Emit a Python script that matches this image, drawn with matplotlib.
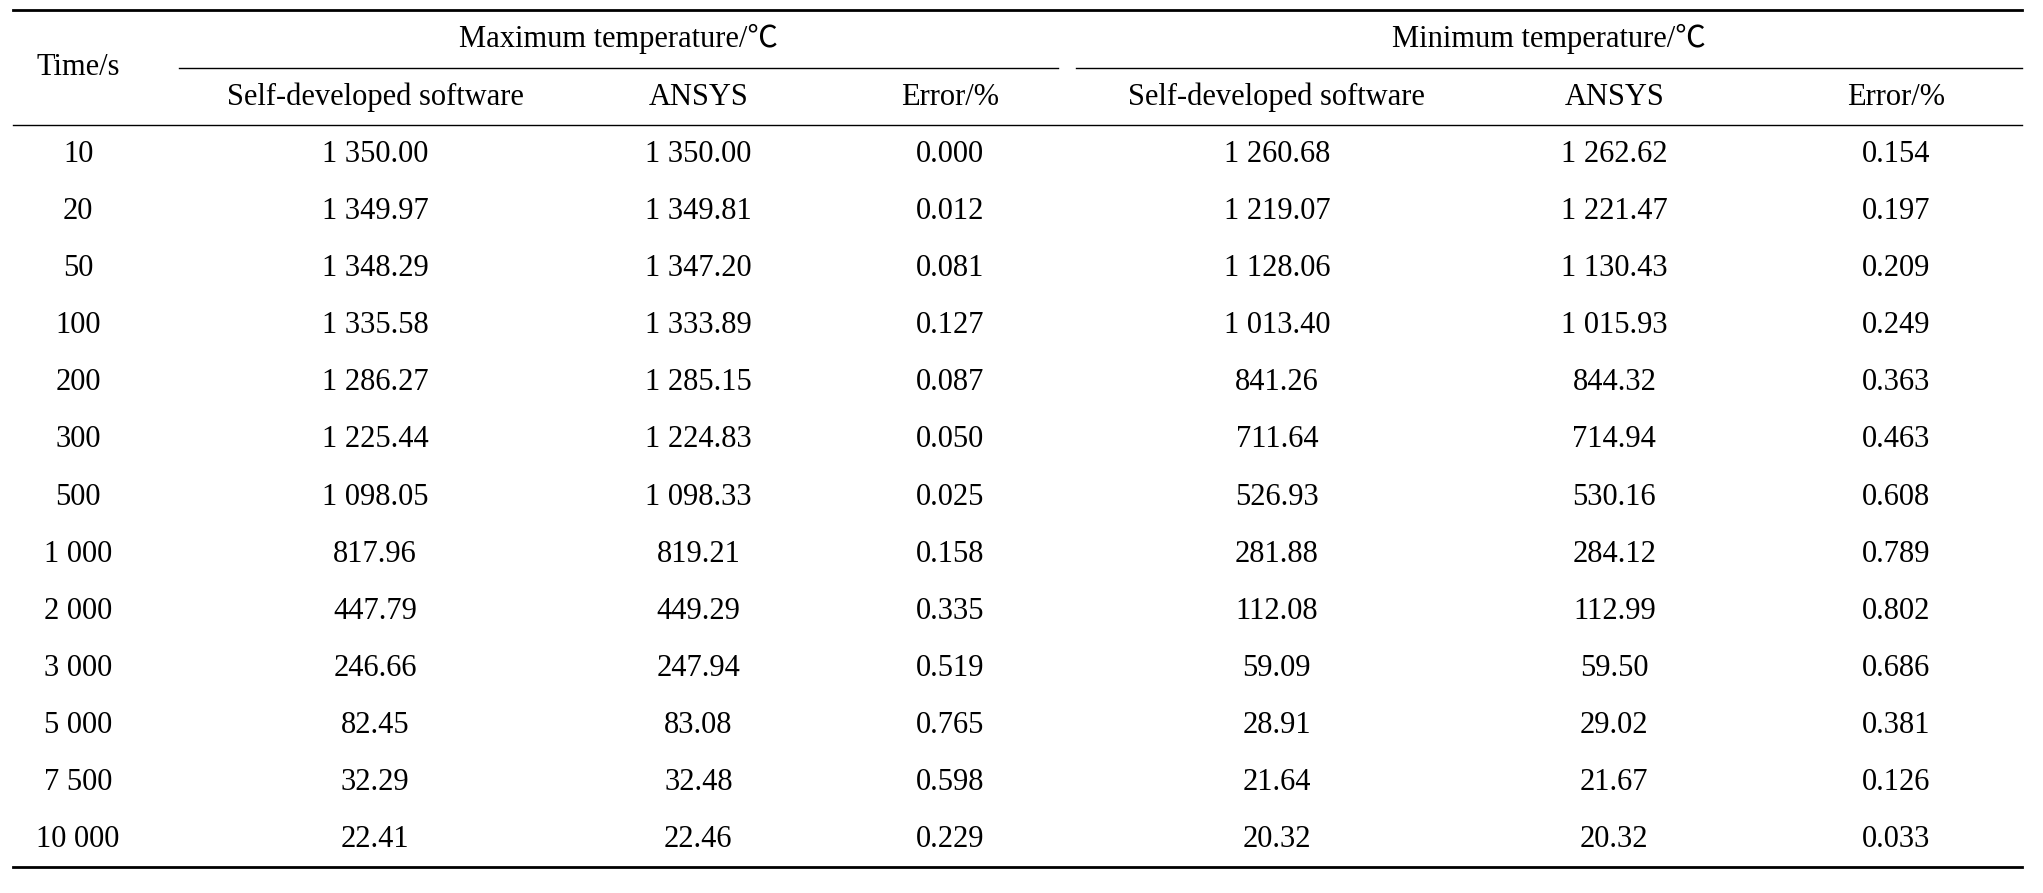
import matplotlib.pyplot as plt

plt.rcParams['font.family'] = ['Liberation Serif', 'Noto Sans CJK SC', 'DejaVu Sans']

times = ["10", "20", "50", "100", "200", "300", "500", "1 000", "2 000", "3 000", "5 000", "7 500", "10 000"]
max_self = ["1 350.00", "1 349.97", "1 348.29", "1 335.58", "1 286.27", "1 225.44", "1 098.05",
            "817.96", "447.79", "246.66", "82.45", "32.29", "22.41"]
max_ansys = ["1 350.00", "1 349.81", "1 347.20", "1 333.89", "1 285.15", "1 224.83", "1 098.33",
             "819.21", "449.29", "247.94", "83.08", "32.48", "22.46"]
max_err = ["0.000", "0.012", "0.081", "0.127", "0.087", "0.050", "0.025",
           "0.158", "0.335", "0.519", "0.765", "0.598", "0.229"]
min_self = ["1 260.68", "1 219.07", "1 128.06", "1 013.40", "841.26", "711.64", "526.93",
            "281.88", "112.08", "59.09", "28.91", "21.64", "20.32"]
min_ansys = ["1 262.62", "1 221.47", "1 130.43", "1 015.93", "844.32", "714.94", "530.16",
             "284.12", "112.99", "59.50", "29.02", "21.67", "20.32"]
min_err = ["0.154", "0.197", "0.209", "0.249", "0.363", "0.463", "0.608",
           "0.789", "0.802", "0.686", "0.381", "0.126", "0.033"]

W, H = 1568.0, 686.0
fig = plt.figure(figsize=(20.43, 8.93), dpi=100)
ax = fig.add_axes([0, 0, 1, 1])
ax.set_xlim(0, W)
ax.set_ylim(H, 0)
ax.axis('off')

fs = 22
cols_x = [60, 288, 536, 729, 980, 1239, 1455]

def txt(x, y, s):
    ax.text(x, y, s, ha='center', va='center', fontsize=fs)

# rules
ax.plot([10, 1552], [8, 8], color='black', lw=2)
ax.plot([137, 812], [52, 52], color='black', lw=1)
ax.plot([826, 1552], [52, 52], color='black', lw=1)
ax.plot([10, 1552], [96, 96], color='black', lw=1)
ax.plot([10, 1552], [666, 666], color='black', lw=2)

txt(60, 52, "Time/s")
txt(475, 30, "Maximum temperature/℃")
txt(1189, 30, "Minimum temperature/℃")
subs = ["Self-developed software", "ANSYS", "Error/%"] * 2
for x, s in zip(cols_x[1:], subs):
    txt(x, 75, s)

columns = [times, max_self, max_ansys, max_err, min_self, min_ansys, min_err]
for i in range(len(times)):
    y = 119 + i * 43.8
    for x, col in zip(cols_x, columns):
        txt(x, y, col[i])

fig.savefig("out.png", dpi=100, facecolor='white')
